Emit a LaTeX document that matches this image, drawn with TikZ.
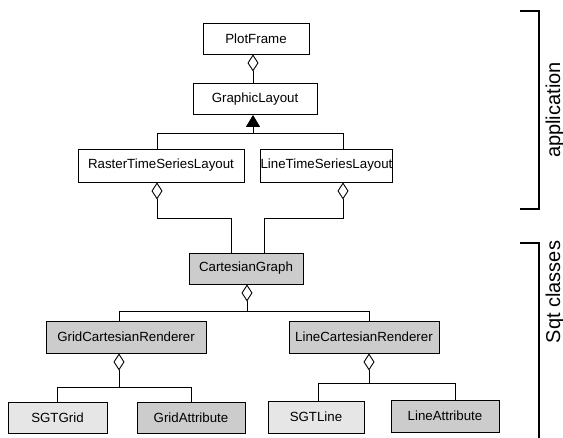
\documentclass[tikz,border=0pt]{standalone}
\usepackage{fontspec}
\setmainfont{Liberation Sans}
\usetikzlibrary{arrows.meta}
\definecolor{boxdark}{RGB}{204,204,204}
\definecolor{boxlight}{RGB}{230,230,230}

\begin{document}
\begin{tikzpicture}[
  x=1pt,
  y=-1pt,
  cls/.style={
    draw=black,
    line width=.9pt,
    fill=white,
    inner sep=0pt,
    minimum height=31pt,
    align=center,
    font=\fontsize{13.3}{16}\selectfont
  },
  sgt/.style={cls,fill=boxdark},
  sgtbase/.style={cls,fill=boxlight},
  link/.style={line width=.9pt},
  agg/.style={link,{Diamond[open,length=17pt,width=11pt,line width=.9pt]}-},
  inherit/.style={link,-{Triangle[length=12pt,width=14pt]}},
  bracket/.style={line width=2pt},
  side/.style={rotate=90,font=\fontsize{20}{24}\selectfont}
]
\useasboundingbox (0,0) rectangle (563,438);

% application classes
\node[cls,minimum width=106pt] (pf) at (256,38.5) {PlotFrame};
\node[cls,minimum width=124pt] (gl) at (255,99) {GraphicLayout};
\node[cls,minimum width=166pt,minimum height=33pt] (rtsl) at (161,165.5)
  {RasterTimeSeriesLayout};
\node[cls,minimum width=121pt,minimum height=33pt] (ltsl) at (326.5,165.5)
  {LineTimeSeriesLayout};

% sgt classes
\node[sgt,minimum width=114pt] (cg) at (246,268.5) {CartesianGraph};
\node[sgt,minimum width=160pt,minimum height=32pt] (gcr) at (126,337)
  {GridCartesianRenderer};
\node[sgt,minimum width=150pt,minimum height=32pt] (lcr) at (364,337)
  {LineCartesianRenderer};
\node[sgtbase,minimum width=99pt] (grid) at (57.5,417.5) {SGTGrid};
\node[sgt,minimum width=108pt] (gatt) at (191,417.5) {GridAttribute};
\node[sgtbase,minimum width=96pt,minimum height=32pt] (line) at (316,417)
  {SGTLine};
\node[sgt,minimum width=108pt,minimum height=32pt] (latt) at (445,416)
  {LineAttribute};

% junctions
\coordinate (inh) at ([xshift=-2pt,yshift=-19pt]gl.south);
\coordinate (cgj) at ([yshift=-27pt]cg.south);
\coordinate (gcrj) at ([xshift=-7pt,yshift=-34pt]gcr.south);
\coordinate (lcrj) at ([xshift=5pt,yshift=-30pt]lcr.south);

% connectors
\draw[agg] ([xshift=-3pt]pf.south) -- ([xshift=-2pt]gl.north);
\draw[inherit] (inh) -- ([xshift=-2pt]gl.south);
\draw[link] ([xshift=-4pt]rtsl.north) |- (inh) -| ([xshift=16.5pt]ltsl.north);

\draw[agg] ([xshift=-4pt]rtsl.south) -- ++(0,36) -| ([xshift=-15pt]cg.north);
\draw[agg] ([xshift=16.5pt]ltsl.south) -- ++(0,36) -| ([xshift=18pt]cg.north);

\draw[agg] ([xshift=1pt]cg.south) -- ([xshift=1pt]cgj);
\draw[link] ([xshift=-7pt]gcr.north) |- (cgj) -| ([xshift=5pt]lcr.north);

\draw[agg] ([xshift=-7pt]gcr.south) -- (gcrj);
\draw[link] (grid.north) |- (gcrj) -| (gatt.north);

\draw[agg] ([xshift=5pt]lcr.south) -- (lcrj);
\draw[link] ([xshift=2pt]line.north) |- (lcrj) -| ([xshift=10pt]latt.north);

% brackets
\draw[bracket] (520,11) -- (539,11) -- (539,209) -- (520,209);
\draw[bracket] (520,243) -- (539,243) -- (539,438);
\node[side] (app) at (555,110) {application};
\node[side] (sgtl) at (555,292) {Sqt classes};
\end{tikzpicture}
\end{document}
